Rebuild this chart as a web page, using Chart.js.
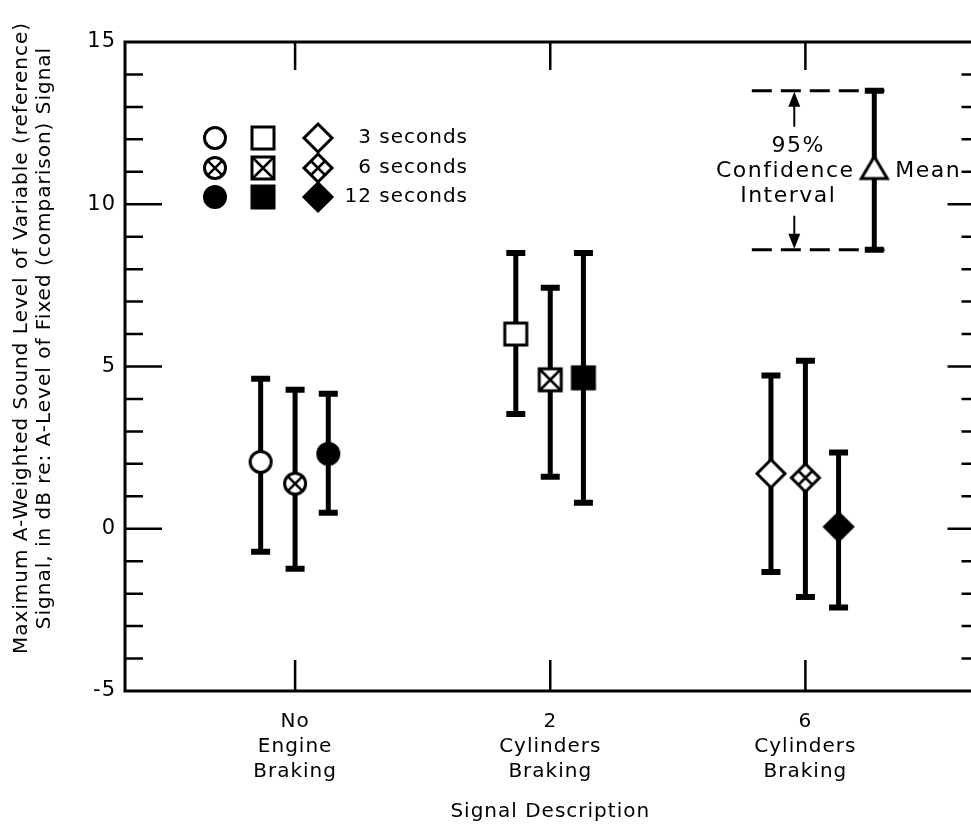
<!DOCTYPE html>
<html lang="en">
<head>
<meta charset="UTF-8">
<title>Signal Description</title>
<script src="https://cdn.jsdelivr.net/npm/chart.js"></script>
<style>
    html, body { margin: 0; padding: 0; background: #fff; overflow: hidden; }
    #wrap { width: 991px; height: 828px; }
</style>
</head>
<body>
<div id="wrap"><canvas id="chart" width="991" height="828"></canvas></div>
<script>
    // signal groups along the x axis
    const categories = [['No', 'Engine', 'Braking'], ['2', 'Cylinders', 'Braking'], ['6', 'Cylinders', 'Braking']];
    const durations = ['3 seconds', '6 seconds', '12 seconds'];

    // mean level and 95% confidence limits (dB), one value per group
    const mean3 = [2.06, 6.0, 1.7];
    const low3 = [-0.71, 3.54, -1.33];
    const high3 = [4.62, 8.5, 4.72];
    const mean6 = [1.39, 4.59, 1.57];
    const low6 = [-1.23, 1.6, -2.1];
    const high6 = [4.28, 7.43, 5.18];
    const mean12 = [2.31, 4.65, 0.06];
    const low12 = [0.49, 0.8, -2.43];
    const high12 = [4.16, 8.5, 2.35];

    const yTicks = [-5, 0, 5, 10, 15];

    // explanatory key, upper right
    const keyX = 3.27;
    const keyMean = 11.1;
    const keyLow = 8.6;
    const keyHigh = 13.5;

    const shapes = ['circle', 'square', 'diamond'];
    const fills = ['open', 'cross', 'solid'];
    const spread = [-0.135, 0, 0.13];
    const FONT = 'DejaVu Sans';

    function marker(shape, fill) {
        const c = document.createElement('canvas');
        c.width = 34; c.height = 34;
        const g = c.getContext('2d');
        g.translate(17, 17);
        g.lineWidth = 3;
        g.strokeStyle = '#000';
        g.fillStyle = fill === 'solid' ? '#000' : '#fff';
        g.beginPath();
        if (shape === 'circle') {
            g.arc(0, 0, 10.5, 0, Math.PI * 2);
        } else if (shape === 'square') {
            g.rect(-11, -11, 22, 22);
        } else if (shape === 'diamond') {
            g.moveTo(0, -14); g.lineTo(14, 0); g.lineTo(0, 14); g.lineTo(-14, 0); g.closePath();
        } else {
            g.moveTo(0, -12); g.lineTo(13, 10); g.lineTo(-13, 10); g.closePath();
        }
        g.fill();
        g.stroke();
        if (fill === 'cross') {
            const d = shape === 'circle' ? 7.4 : shape === 'square' ? 11 : 7;
            g.beginPath();
            g.moveTo(-d, -d); g.lineTo(d, d);
            g.moveTo(-d, d); g.lineTo(d, -d);
            g.lineWidth = 2.5;
            g.stroke();
        }
        return c;
    }

    const series = [
        { label: durations[0], mean: mean3, low: low3, high: high3 },
        { label: durations[1], mean: mean6, low: low6, high: high6 },
        { label: durations[2], mean: mean12, low: low12, high: high12 }
    ];

    function errorBar(x, lo, hi) {
        return {
            data: [{ x: x, y: lo }, { x: x, y: hi }],
            showLine: true,
            borderColor: '#000',
            borderWidth: 5,
            pointStyle: 'line',
            pointRadius: 9.5,
            pointBorderWidth: 6,
            pointBorderColor: '#000',
            order: 2
        };
    }

    const datasets = [];
    series.forEach((s, d) => {
        datasets.push({
            label: s.label,
            data: s.mean.map((m, i) => ({ x: i + 1 + spread[d], y: m })),
            pointStyle: shapes.map(sh => marker(sh, fills[d])),
            pointRadius: 14,
            showLine: false,
            order: 0
        });
        s.mean.forEach((m, i) => datasets.push(errorBar(i + 1 + spread[d], s.low[i], s.high[i])));
    });

    // key: mean triangle with its interval and dashed guides
    datasets.push({
        data: [{ x: keyX, y: keyMean }],
        pointStyle: marker('triangle', 'open'),
        pointRadius: 14,
        order: 0
    });
    datasets.push(errorBar(keyX, keyLow, keyHigh));
    [keyHigh, keyLow].forEach(v => datasets.push({
        data: [{ x: keyX - 0.48, y: v }, { x: keyX + 0.04, y: v }],
        showLine: true,
        borderColor: '#000',
        borderWidth: 3,
        borderDash: [20, 9],
        pointRadius: 0,
        order: 3
    }));

    // frame with inward ticks on all four sides
    const frame = {
        id: 'frame',
        beforeDraw(chart) {
            chart.ctx.letterSpacing = '1px';
        },
        beforeDatasetsDraw(chart) {
            const { ctx, chartArea: a, scales: { x, y } } = chart;
            ctx.save();
            ctx.strokeStyle = '#000';
            ctx.lineWidth = 3;
            ctx.strokeRect(a.left, a.top, a.right - a.left, a.bottom - a.top);
            ctx.lineWidth = 2.5;
            ctx.beginPath();
            for (let v = y.min + 1; v < y.max; v++) {
                const py = y.getPixelForValue(v);
                const major = v % 5 === 0;
                ctx.moveTo(a.left, py); ctx.lineTo(a.left + (major ? 37 : 18), py);
                ctx.moveTo(a.right, py); ctx.lineTo(a.right - (major ? 28 : 14), py);
            }
            categories.forEach((c, i) => {
                const px = x.getPixelForValue(i + 1);
                ctx.moveTo(px, a.bottom); ctx.lineTo(px, a.bottom - 31);
                ctx.moveTo(px, a.top); ctx.lineTo(px, a.top + 28);
            });
            ctx.stroke();
            ctx.restore();
        },
        afterDraw(chart) {
            const { ctx, chartArea: a, scales: { x, y } } = chart;
            ctx.save();
            ctx.fillStyle = '#000';
            ctx.strokeStyle = '#000';
            ctx.font = '20px "' + FONT + '"';
            ctx.letterSpacing = '1px';

            // y axis title, two rotated lines
            ctx.save();
            ctx.translate(22, 338);
            ctx.rotate(-Math.PI / 2);
            ctx.textAlign = 'center';
            ctx.textBaseline = 'middle';
            ctx.fillText('Maximum A-Weighted Sound Level of Variable (reference)', 0, 0);
            ctx.fillText('Signal, in dB re: A-Level of Fixed (comparison) Signal', 0, 23);
            ctx.restore();

            // symbol legend
            const cols = [a.left + 90, a.left + 138, a.left + 193];
            const rows = [a.top + 96, a.top + 126, a.top + 155];
            ctx.textAlign = 'right';
            ctx.textBaseline = 'middle';
            durations.forEach((label, d) => {
                shapes.forEach((sh, k) => {
                    const m = marker(sh, fills[d]);
                    ctx.drawImage(m, cols[k] - 17, rows[d] - 17);
                });
                ctx.fillText(label, a.left + 343, rows[d]);
            });

            // key arrows and text
            const kx = x.getPixelForValue(keyX);
            const ky = y.getPixelForValue(keyMean);
            const kHi = y.getPixelForValue(keyHigh);
            const kLo = y.getPixelForValue(keyLow);
            const ax = kx - 80;
            ctx.lineWidth = 2;
            ctx.beginPath();
            ctx.moveTo(ax, kHi + 36); ctx.lineTo(ax, kHi + 12);
            ctx.moveTo(ax, kLo - 34); ctx.lineTo(ax, kLo - 12);
            ctx.stroke();
            ctx.beginPath();
            ctx.moveTo(ax, kHi + 1); ctx.lineTo(ax - 6, kHi + 16); ctx.lineTo(ax + 6, kHi + 16); ctx.closePath();
            ctx.moveTo(ax, kLo - 1); ctx.lineTo(ax - 6, kLo - 16); ctx.lineTo(ax + 6, kLo - 16); ctx.closePath();
            ctx.fill();
            ctx.font = '22px "' + FONT + '"';
            ctx.letterSpacing = '1.5px';
            ctx.textAlign = 'center';
            ctx.fillText('95%', kx - 76, ky - 22);
            ctx.fillText('Confidence', kx - 89, ky + 3);
            ctx.fillText('Interval', kx - 86, ky + 28);
            ctx.textAlign = 'left';
            ctx.fillText('Mean', kx + 21, ky + 3);
            ctx.restore();
        }
    };

    Chart.defaults.font.family = FONT;
    Chart.defaults.font.size = 20;
    Chart.defaults.color = '#000';

    new Chart(document.getElementById('chart'), {
        type: 'scatter',
        data: { datasets: datasets },
        options: {
            responsive: false,
            animation: false,
            events: [],
            layout: { padding: { top: 42, right: 4, left: 0, bottom: 0 } },
            plugins: { legend: { display: false }, tooltip: { enabled: false } },
            scales: {
                x: {
                    type: 'linear',
                    min: 1 / 3,
                    max: 11 / 3,
                    grid: { display: false, drawTicks: false },
                    border: { display: false },
                    afterBuildTicks: s => { s.ticks = categories.map((c, i) => ({ value: i + 1 })); },
                    afterFit: s => { s.height = 137; },
                    ticks: {
                        autoSkip: false,
                        maxRotation: 0,
                        padding: 18,
                        font: { size: 20, lineHeight: 1.25 },
                        callback: (v, i) => categories[i]
                    },
                    title: {
                        display: true,
                        text: 'Signal Description',
                        font: { size: 20, lineHeight: 1.2 },
                        padding: { top: 0, bottom: 4 }
                    }
                },
                y: {
                    min: -5,
                    max: 15,
                    grid: { display: false, drawTicks: false },
                    border: { display: false },
                    afterBuildTicks: s => { s.ticks = yTicks.map(v => ({ value: v })); },
                    afterFit: s => { s.width = 125; },
                    ticks: { padding: 9, font: { size: 21 } }
                }
            }
        },
        plugins: [frame]
    });
</script>
</body>
</html>
